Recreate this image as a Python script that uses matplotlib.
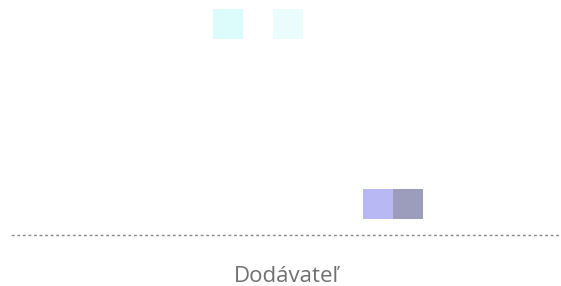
import matplotlib
matplotlib.use("Agg")
import matplotlib.pyplot as plt

# cells of the chart: column index, row index, colour
cols = [6, 8, 11, 12]
rows = [6, 6, 0, 0]
colors = ["#dcfcfc", "#eafcfc", "#b8b8f4", "#9c9cbc"]
x_label = "Dodávateľ"

fig = plt.figure(figsize=(5.61, 2.86), dpi=100)
ax = fig.add_axes([12 / 561, 51 / 286, 549 / 561, 235 / 286])

ax.bar(cols, [1] * len(cols), bottom=rows, width=1.0, align="edge",
       color=colors, edgecolor="none")

ax.set_xlim(-0.7, 17.6)
ax.set_ylim(-0.53, 7.3)

for side in ["top", "left", "right"]:
    ax.spines[side].set_visible(False)
ax.spines["bottom"].set_linestyle((0, (1, 3)))
ax.spines["bottom"].set_color("#888888")
ax.spines["bottom"].set_linewidth(1.0)
ax.set_xticks([])
ax.set_yticks([])
ax.set_xlabel(x_label, fontsize=16, color="#707070", family="Open Sans", labelpad=22)

fig.savefig("out.png", dpi=100)
